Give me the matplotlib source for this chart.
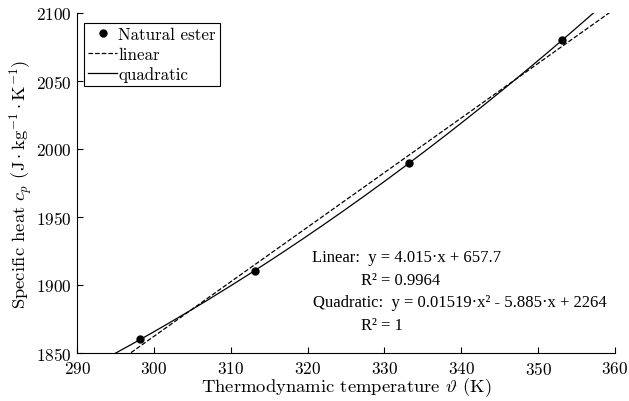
import numpy as np
import matplotlib
matplotlib.use("Agg")
import matplotlib.pyplot as plt

# measured points
temperature = [298.15, 313.15, 333.15, 353.15]
heat_capacity = [1860, 1910, 1990, 2080]

# fit coefficients as printed on the chart
linear_coef = [4.015, 657.7]
quad_coef = [0.01519, -5.885, 2264]

xticks = [290, 300, 310, 320, 330, 340, 350, 360]
yticks = [1850, 1900, 1950, 2000, 2050, 2100]

plt.rcParams['font.family'] = 'cmr10'
plt.rcParams['mathtext.fontset'] = 'cm'
plt.rcParams['axes.formatter.use_mathtext'] = True

fig = plt.figure(figsize=(6.29, 4.02), dpi=100)
ax = fig.add_axes([0.1224, 0.1194, 0.8553, 0.8458])

xs = np.linspace(290, 360, 400)
ax.plot(temperature, heat_capacity, 'o', color='black', markersize=5,
        label='Natural ester')
ax.plot(xs, np.polyval(linear_coef, xs), '--', color='black', lw=0.9,
        label='linear')
ax.plot(xs, np.polyval(quad_coef, xs), '-', color='black', lw=0.9,
        label='quadratic')

ax.set_xlim(290, 360)
ax.set_ylim(1850, 2100)
ax.set_xticks(xticks)
ax.set_yticks(yticks)
ax.tick_params(direction='in', length=4, width=0.8, labelsize=12.3)
ax.tick_params(axis='x', pad=5)
ax.tick_params(axis='y', pad=4)
ax.spines['top'].set_visible(False)
ax.spines['right'].set_visible(False)

ax.set_xlabel(r'Thermodynamic temperature $\vartheta$ (K)', fontsize=13.4,
              labelpad=-1)
ax.set_ylabel(r'Specific heat $c_p$ ($\mathrm{J\cdot kg^{-1}\cdot K^{-1}}$)',
              fontsize=13.4, labelpad=1)

leg = ax.legend(loc='upper left', bbox_to_anchor=(0.013, 0.97),
                fancybox=False, edgecolor='black', framealpha=1,
                handlelength=1.75, handletextpad=0.05, borderpad=0.22,
                labelspacing=0.25, borderaxespad=0, fontsize=12.2)
leg.get_frame().set_linewidth(0.8)

serif = 'Liberation Serif'
ax.text(0.437, 0.282, 'Linear:  y = 4.015·x + 657.7', transform=ax.transAxes,
        family=serif, fontsize=12, va='center')
ax.text(0.528, 0.215, 'R² = 0.9964', transform=ax.transAxes,
        family=serif, fontsize=12, va='center')
ax.text(0.439, 0.150, 'Quadratic:  y = 0.01519·x² - 5.885·x + 2264',
        transform=ax.transAxes, family=serif, fontsize=12, va='center')
ax.text(0.528, 0.082, 'R² = 1', transform=ax.transAxes,
        family=serif, fontsize=12, va='center')

fig.savefig('out.png', dpi=100)
